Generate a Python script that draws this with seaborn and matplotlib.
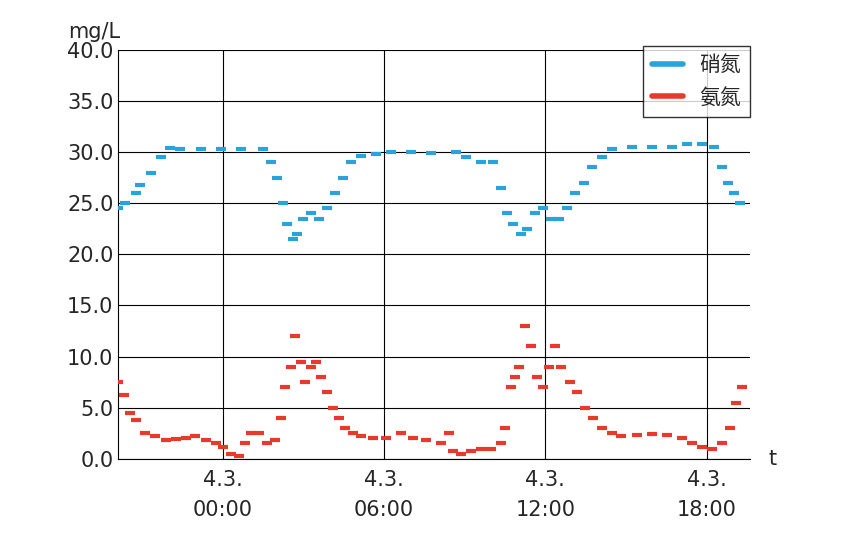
import seaborn as sns
import numpy as np
import matplotlib.pyplot as plt

# hours relative to 4.3. 00:00
no3_t = [-3.88, -3.62, -3.24, -3.06, -2.68, -2.31, -1.94, -1.57, -0.82, -0.07, 0.67, 1.49, 1.79, 2.01,
         2.24, 2.39, 2.61, 2.76, 2.98, 3.28, 3.58, 3.88, 4.17, 4.47, 4.77, 5.14, 5.70, 6.26, 7.01, 7.75,
         8.68, 9.06, 9.62, 10.06, 10.36, 10.58, 10.81, 11.11, 11.33, 11.63, 11.93, 12.22, 12.52, 12.82,
         13.12, 13.42, 13.72, 14.09, 14.46, 15.21, 15.95, 16.70, 17.26, 17.82, 18.26, 18.56, 18.79,
         19.01, 19.23]
no3_v = [24.5, 25, 26, 26.8, 28, 29.5, 30.4, 30.3, 30.3, 30.3, 30.3, 30.3, 29, 27.5,
         25, 23, 21.5, 22, 23.5, 24, 23.5, 24.5, 26, 27.5, 29, 29.6, 29.8, 30, 30, 29.9,
         30, 29.5, 29, 29, 26.5, 24, 23, 22, 22.5, 24, 24.5, 23.5, 23.5, 24.5,
         26, 27, 28.5, 29.5, 30.3, 30.5, 30.5, 30.5, 30.8, 30.8, 30.5, 28.5, 27,
         26, 25]
nh4_t = [-3.88, -3.65, -3.43, -3.24, -2.87, -2.50, -2.12, -1.75, -1.38, -1.01, -0.63, -0.26, 0, 0.30,
         0.60, 0.82, 1.04, 1.34, 1.64, 1.94, 2.16, 2.31, 2.53, 2.68, 2.91, 3.06, 3.28, 3.47, 3.65, 3.88,
         4.10, 4.32, 4.55, 4.85, 5.14, 5.59, 6.08, 6.63, 7.08, 7.57, 8.13, 8.42, 8.57, 8.87, 9.24, 9.62,
         9.99, 10.36, 10.51, 10.73, 10.88, 11.03, 11.26, 11.48, 11.70, 11.93, 12.15, 12.37, 12.60,
         12.90, 13.19, 13.49, 13.79, 14.09, 14.46, 14.83, 15.39, 15.95, 16.51, 17.07, 17.44, 17.82,
         18.19, 18.56, 18.86, 19.08, 19.31]
nh4_v = [7.5, 6.2, 4.5, 3.8, 2.5, 2.2, 1.8, 1.9, 2, 2.2, 1.8, 1.5, 1.2, 0.5,
         0.3, 1.5, 2.5, 2.5, 1.5, 1.8, 4, 7, 9, 12, 9.5, 7.5, 9, 9.5, 8, 6.5,
         5, 4, 3, 2.5, 2.2, 2, 2, 2.5, 2, 1.8, 1.5, 2.5, 0.8, 0.5, 0.8, 1,
         1, 1.5, 3, 7, 8, 9, 13, 11, 8, 7, 9, 11, 9,
         7.5, 6.5, 5, 4, 3, 2.5, 2.2, 2.3, 2.4, 2.3, 2, 1.5, 1.2,
         1, 1.5, 3, 5.5, 7]
tick_hours = [0, 6, 12, 18]
tick_labels = ['4.3.\n00:00', '4.3.\n06:00', '4.3.\n12:00', '4.3.\n18:00']

sns.set_style("white")
plt.rcParams['font.family'] = ['DejaVu Sans', 'Noto Sans CJK SC']
fig = plt.figure(figsize=(8.51, 5.36), dpi=100)
ax = fig.add_axes([0.139, 0.144, 0.742, 0.763])
ax.set_axisbelow(True)

blue, red = '#29a3dc', '#e8392b'
sns.lineplot(x=no3_t, y=no3_v, ax=ax, color=blue, linestyle='', marker='_',
             markersize=7, markeredgewidth=3, markeredgecolor=blue, label='硝氮', zorder=3)
sns.lineplot(x=nh4_t, y=nh4_v, ax=ax, color=red, linestyle='', marker='_',
             markersize=7, markeredgewidth=3, markeredgecolor=red, label='氨氮', zorder=3)

ax.set_xlim(-3.88, 19.6)
ax.set_ylim(0, 40)
ax.set_yticks(np.arange(0, 40.1, 5))
ax.set_yticklabels([f'{v:.1f}' for v in np.arange(0, 40.1, 5)], fontsize=15)
ax.set_xticks(tick_hours)
ax.set_xticklabels(tick_labels, fontsize=15, linespacing=1.6)
ax.tick_params(axis='x', length=0, pad=8)
ax.tick_params(axis='y', length=0)
ax.grid(True, color='black', linewidth=0.8)
for s in ['top', 'right']:
    ax.spines[s].set_visible(False)
for s in ['left', 'bottom']:
    ax.spines[s].set_color('black')
ax.set_xlabel('')
ax.set_ylabel('')
ax.text(-0.08, 1.02, 'mg/L', transform=ax.transAxes, fontsize=15, ha='left', va='bottom')
ax.text(1.03, 0.0, 't', transform=ax.transAxes, fontsize=15, ha='left', va='center')
leg = ax.legend(loc='upper right', bbox_to_anchor=(1.0, 1.01), frameon=True,
                fancybox=False, edgecolor='black', handlelength=1.5, borderaxespad=0,
                prop={'family': ['Noto Sans CJK SC'], 'size': 15})
leg.get_frame().set_linewidth(1)
for h in leg.legend_handles:
    h.set_linestyle('-')
    h.set_linewidth(4)
    h.set_marker('')

fig.savefig('out.png', dpi=100)
